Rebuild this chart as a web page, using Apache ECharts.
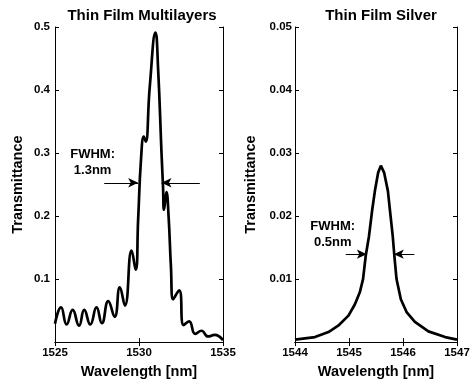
<!DOCTYPE html>
<html>
<head>
<meta charset="utf-8">
<script src="https://cdn.jsdelivr.net/npm/echarts@6/dist/echarts.min.js"></script>
<style>
html,body{margin:0;padding:0;background:#fff;}
#chart{width:474px;height:384px;}
</style>
</head>
<body>
<div id="chart"></div>
<script>
// ---- Data ----
const multilayerWavelength = [1525.00,1525.36,1525.69,1526.05,1526.43,1526.74,1527.10,1527.47,1527.79,1528.17,1528.55,1528.86,1529.16,1529.56,1529.80,1529.95,1530.12,1530.29,1530.40,1530.64,1530.98,1531.14,1531.34,1531.43,1531.49,1531.63,1531.76,1531.90,1532.03,1532.39,1532.66,1532.98,1533.35,1533.72,1534.11,1534.50,1535.00];
const multilayerT = [0.029,0.055,0.028,0.051,0.026,0.051,0.028,0.055,0.030,0.065,0.040,0.087,0.058,0.145,0.115,0.195,0.290,0.326,0.318,0.405,0.491,0.432,0.300,0.247,0.210,0.238,0.200,0.120,0.068,0.082,0.027,0.033,0.013,0.018,0.009,0.0115,0.003];

const silverWavelength = [1544.00,1544.37,1544.62,1544.80,1544.99,1545.11,1545.20,1545.26,1545.31,1545.37,1545.43,1545.48,1545.54,1545.59,1545.65,1545.72,1545.77,1545.81,1545.84,1545.88,1545.96,1546.07,1546.22,1546.47,1546.78,1547.00];
const silverT = [0.0004,0.0008,0.0016,0.0026,0.0042,0.0060,0.0079,0.0100,0.0137,0.0168,0.0210,0.0240,0.0269,0.0280,0.0269,0.0240,0.0200,0.0168,0.0137,0.0100,0.0068,0.0047,0.0032,0.0017,0.0008,0.0004];

const titles = ['Thin Film Multilayers','Thin Film Silver'];
const xName = 'Wavelength [nm]';
const yName = 'Transmittance';
const leftNote = 'FWHM:\n1.3nm';
const rightNote = 'FWHM:\n0.5nm';
// FWHM annotation anchor values (data units)
const leftArrowY = 0.2528;
const leftArrows = [[1527.93,1529.95],[1533.62,1531.34]];
const leftNotePos = [1527.24,0.2848];
const rightArrowY = 0.01395;
const rightArrows = [[1544.94,1545.33],[1546.21,1545.83]];
const rightNotePos = [1544.698,0.01714];

// ---- Chart ----
const FONT = '"Liberation Sans", Arial, Helvetica, sans-serif';
const chart = echarts.init(document.getElementById('chart'), null, {renderer:'canvas'});

function zip(a,b){ return a.map((v,i)=>[v,b[i]]); }

const lineStyleAxis = {show:true, lineStyle:{color:'#000', width:1}};
const tickIn = {show:true, inside:true, length:4, lineStyle:{color:'#000', width:1}};
const tickLabel = {fontFamily:FONT, fontSize:11.5, fontWeight:'bold', color:'#000'};
const nameStyle = {fontFamily:FONT, fontSize:14.5, fontWeight:'bold', color:'#000'};
const titleStyle = {fontFamily:FONT, fontSize:15, fontWeight:'bold', color:'#000'};

function xAxes(gi, min, max, interval){
  return [
    {type:'value', gridIndex:gi, min, max, interval, position:'bottom',
     axisLine:lineStyleAxis, axisTick:tickIn, splitLine:{show:false},
     axisLabel:Object.assign({margin:5, formatter:v => String(v)}, tickLabel),
     name:xName, nameLocation:'middle', nameGap:20, nameTextStyle:nameStyle},
    {type:'value', gridIndex:gi, min, max, interval, position:'top',
     axisLine:lineStyleAxis, axisTick:tickIn, splitLine:{show:false},
     axisLabel:{show:false}}
  ];
}
function yAxes(gi, max, interval, gap, margin){
  return [
    {type:'value', gridIndex:gi, min:0, max, interval, position:'left',
     axisLine:lineStyleAxis, axisTick:tickIn, splitLine:{show:false},
     axisLabel:Object.assign({margin, formatter:v => v === 0 ? '' : String(+v.toFixed(3))}, tickLabel),
     name:yName, nameLocation:'middle', nameGap:gap, nameRotate:90, nameTextStyle:nameStyle},
    {type:'value', gridIndex:gi, min:0, max, interval, position:'right',
     axisLine:lineStyleAxis, axisTick:tickIn, splitLine:{show:false},
     axisLabel:{show:false}}
  ];
}

function arrows(pairs, y){
  return pairs.map(p => [{coord:[p[0],y]},{coord:[p[1],y]}]);
}
function note(pos, text){
  return {
    symbol:'circle', symbolSize:1, itemStyle:{color:'rgba(0,0,0,0)'},
    label:{show:true, position:'inside', formatter:text, fontFamily:FONT, fontSize:13,
           fontWeight:'bold', color:'#000', lineHeight:16, align:'center'},
    data:[{coord:pos}]
  };
}
function markLines(pairs, y){
  return {
    silent:true, symbol:['none','arrow'], symbolSize:[7,10],
    lineStyle:{color:'#000', width:1, type:'solid'},
    label:{show:false}, emphasis:{disabled:true},
    data:arrows(pairs, y)
  };
}

const option = {
  animation:false,
  backgroundColor:'#fff',
  title:[
    {text:titles[0], left:137, top:3, textAlign:'center', textStyle:titleStyle},
    {text:titles[1], left:376, top:3, textAlign:'center', textStyle:titleStyle}
  ],
  grid:[
    {left:55, top:27, width:168, height:316},
    {left:295, top:27, width:162, height:316}
  ],
  xAxis:[...xAxes(0,1525,1535,5), ...xAxes(1,1544,1547,1)],
  yAxis:[...yAxes(0,0.5,0.1,30,5), ...yAxes(1,0.05,0.01,37,3)],
  series:[
    {type:'line', xAxisIndex:0, yAxisIndex:0, data:zip(multilayerWavelength, multilayerT),
     showSymbol:false, smooth:0.5, lineStyle:{color:'#000', width:2.7}, itemStyle:{color:'#000'},
     markLine:markLines(leftArrows, leftArrowY), markPoint:note(leftNotePos, leftNote)},
    {type:'line', xAxisIndex:2, yAxisIndex:2, data:zip(silverWavelength, silverT),
     showSymbol:false, smooth:false, lineStyle:{color:'#000', width:2.7}, itemStyle:{color:'#000'},
     markLine:markLines(rightArrows, rightArrowY), markPoint:note(rightNotePos, rightNote)}
  ]
};
chart.setOption(option);
</script>
</body>
</html>
